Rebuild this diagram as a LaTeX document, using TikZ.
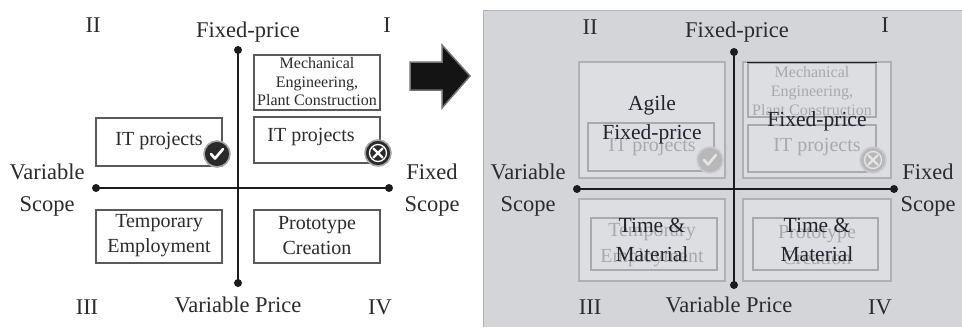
\documentclass[tikz,border=0pt]{standalone}
\usepackage{fontspec}
\setmainfont{Liberation Serif}
\definecolor{txt}{HTML}{2B2B2B}
\definecolor{boxc}{HTML}{5A5A5A}
\definecolor{bgc}{HTML}{D3D5D8}
\definecolor{qfill}{HTML}{DCDEE1}
\definecolor{qdraw}{HTML}{AEB0B3}
\definecolor{fdraw}{HTML}{A9AAAC}
\definecolor{ftxt}{HTML}{A8A9AB}
\definecolor{dtxt}{HTML}{23232D}
\definecolor{axc}{HTML}{1C1C1C}
\definecolor{icn}{HTML}{2A2A2A}
\begin{document}
\begin{tikzpicture}[x=1pt,y=-1pt,
  lbl/.style={font=\fontsize{22.5}{32}\selectfont, text=txt, inner sep=0pt, align=center},
  boxn/.style={draw=boxc, line width=1.3pt, fill=white, inner sep=0pt},
  btxt/.style={font=\fontsize{20}{25}\selectfont, text=txt, align=center, inner sep=0pt},
  stxt/.style={font=\fontsize{16}{18.5}\selectfont, text=txt, align=center, inner sep=0pt},
  quad/.style={draw=qdraw, line width=1.2pt, fill=qfill, inner sep=0pt},
  fbox/.style={draw=fdraw, line width=1.2pt, inner sep=0pt},
  ftext/.style={font=\fontsize{20}{26}\selectfont, text=ftxt, align=center, inner sep=0pt},
  fstxt/.style={font=\fontsize{16}{19}\selectfont, text=ftxt, align=center, inner sep=0pt},
  dark/.style={font=\fontsize{21.5}{29}\selectfont, text=dtxt, align=center, inner sep=0pt},
  axis/.style={draw=axc, line width=2.6pt},
  dotn/.style={circle, fill=axc, minimum size=8pt, inner sep=0pt},
  icon/.style={circle, fill=icn, draw=gray!70, line width=1.6pt, minimum size=26pt, inner sep=0pt},
  ficon/.style={circle, fill=black!28, draw=black!20, line width=1.6pt, minimum size=26pt, inner sep=0pt},
  icmark/.style={draw=white, line width=2.6pt, line cap=round, line join=round},
  ficmark/.style={draw=black!10, line width=2.6pt, line cap=round, line join=round}
]
\useasboundingbox (0,0) rectangle (962,327);
\fill[white] (0,0) rectangle (962,327);

% ================= LEFT PANEL =================
\node[lbl] (lII) at (93,25) {II};
\node[lbl] (lFP) at (248,32) {Fixed-price};
\node[lbl] (lI) at (387,25) {I};
\node[lbl] (lVS) at (47,190) {Variable\\Scope};
\node[lbl] (lFS) at (432,190) {Fixed\\Scope};
\node[lbl] (lIII) at (87,307) {III};
\node[lbl] (lVP) at (238,305) {Variable Price};
\node[lbl] (lIV) at (380,307) {IV};

\node[boxn, minimum width=126pt, minimum height=55pt] (mech) at (317,82.5) {};
\node[stxt] (mecht) at (317,82) {Mechanical\\Engineering,\\Plant Construction};
\node[boxn, minimum width=126pt, minimum height=46pt] (itr) at (317,140) {};
\node[btxt] (itrt) at (311,137) {IT projects};
\node[boxn, minimum width=126pt, minimum height=48pt] (itl) at (159,142) {};
\node[btxt] (itlt) at (159,141) {IT projects};
\node[boxn, minimum width=126pt, minimum height=53pt] (temp) at (159,236.5) {};
\node[btxt] (tempt) at (159,236) {Temporary\\Employment};
\node[boxn, minimum width=126pt, minimum height=53pt] (proto) at (317,236.5) {};
\node[btxt] (protot) at (317,236) {Prototype\\Creation};

\coordinate (lT) at (238,50);
\coordinate (lB) at (238,283);
\coordinate (lL) at (96,188);
\coordinate (lR) at (389,188);
\draw[axis] (lT) -- (lB);
\draw[axis] (lL) -- (lR);
\node[dotn] at (lT) {};
\node[dotn] at (lB) {};
\node[dotn] at (lL) {};
\node[dotn] at (lR) {};

\node[icon] (ck) at (217,154) {};
\draw[icmark] ([shift={(-6,0)}]ck.center) -- ([shift={(-2,4.5)}]ck.center) -- ([shift={(6,-5)}]ck.center);
\node[icon] (xx) at (378,153) {};
\draw[white, line width=1.3pt] (xx.center) circle (8.5pt);
\draw[icmark, line width=2.2pt] ([shift={(-4.5,-4.5)}]xx.center) -- ([shift={(4.5,4.5)}]xx.center);
\draw[icmark, line width=2.2pt] ([shift={(-4.5,4.5)}]xx.center) -- ([shift={(4.5,-4.5)}]xx.center);

% big arrow
\filldraw[fill=black!92, draw=black!55, line width=1.5pt, line join=miter]
  (410,62) -- (442,62) -- (442,45) -- (470,76) -- (442,108) -- (442,90) -- (410,90) -- cycle;

% ================= RIGHT PANEL =================
\fill[bgc] (483,10) rectangle (962,327);
\draw[black!30, line width=1pt] (483.5,327) -- (483.5,10.5) -- (962,10.5);

\node[quad, minimum width=146pt, minimum height=116pt] (q2) at (652,120) {};
\node[quad, minimum width=148pt, minimum height=116pt] (q1) at (817,120) {};
\node[quad, minimum width=146pt, minimum height=82pt] (q3) at (652,240) {};
\node[quad, minimum width=148pt, minimum height=82pt] (q4) at (817,240) {};

\node[fbox, minimum width=128pt, minimum height=54pt] (fmech) at (812,90) {};
\draw[axc, line width=1.6pt] (fmech.north west) -- (fmech.north east);
\node[fstxt] (fmecht) at (812,91) {Mechanical\\Engineering,\\Plant Construction};
\node[fbox, minimum width=128pt, minimum height=47pt] (fitr) at (812,148.5) {};
\node[ftext] (fitrt) at (817,147) {IT projects};
\node[fbox, minimum width=126pt, minimum height=48pt] (fitl) at (651,147) {};
\node[ftext] (fitlt) at (652,147) {IT projects};
\node[fbox, minimum width=126pt, minimum height=52pt] (ftemp) at (654,244) {};
\node[ftext] (ftempt) at (652,245) {Temporary\\Employment};
\node[fbox, minimum width=125pt, minimum height=52pt] (fproto) at (815.5,244) {};
\node[ftext] (fprotot) at (817,245) {Prototype\\Creation};

\node[ficon] (fck) at (710,160) {};
\draw[ficmark] ([shift={(-6,0)}]fck.center) -- ([shift={(-2,4.5)}]fck.center) -- ([shift={(6,-5)}]fck.center);
\node[ficon] (fxx) at (873,160) {};
\draw[black!10, line width=1.3pt] (fxx.center) circle (8.5pt);
\draw[ficmark, line width=2.2pt] ([shift={(-4.5,-4.5)}]fxx.center) -- ([shift={(4.5,4.5)}]fxx.center);
\draw[ficmark, line width=2.2pt] ([shift={(-4.5,4.5)}]fxx.center) -- ([shift={(4.5,-4.5)}]fxx.center);

\coordinate (rT) at (734,52);
\coordinate (rB) at (734,285);
\coordinate (rL) at (577,189);
\coordinate (rR) at (894,189);
\draw[axis] (rT) -- (rB);
\draw[axis] (rL) -- (rR);
\node[dotn] at (rT) {};
\node[dotn] at (rB) {};
\node[dotn] at (rL) {};
\node[dotn] at (rR) {};

\node[lbl] (rII) at (590,27) {II};
\node[lbl] (rFP) at (737,32) {Fixed-price};
\node[lbl] (rI) at (885,25) {I};
\node[lbl] (rVS) at (528,190) {Variable\\Scope};
\node[lbl] (rFS) at (928,190) {Fixed\\Scope};
\node[lbl] (rIII) at (590,307) {III};
\node[lbl] (rVP) at (729,305) {Variable Price};
\node[lbl] (rIV) at (880,307) {IV};

\node[dark] (agile) at (652,120) {Agile\\Fixed-price};
\node[dark] (fixp) at (817,121) {Fixed-price};
\node[dark] (tm3) at (652,240) {Time \&\\Material};
\node[dark] (tm4) at (817,240) {Time \&\\Material};
\end{tikzpicture}
\end{document}
